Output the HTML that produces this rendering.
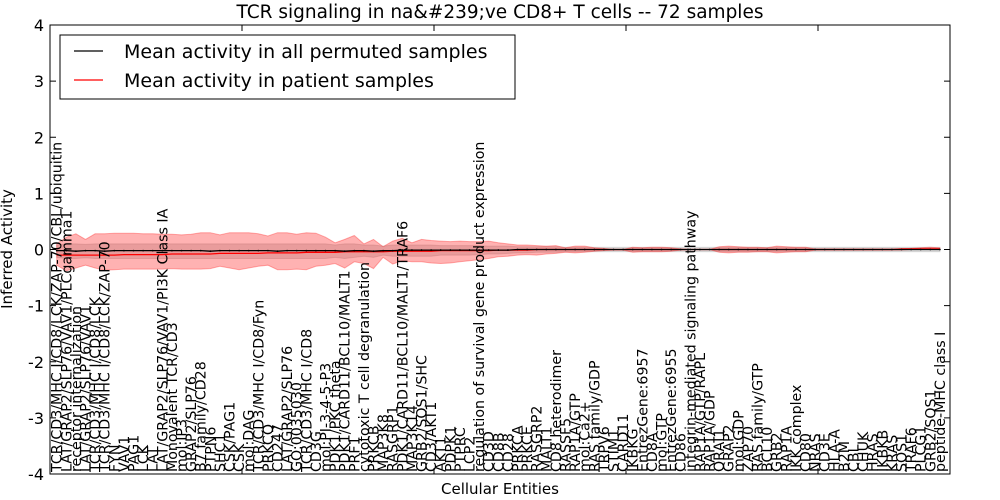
<!DOCTYPE html>
<html><head><meta charset="utf-8"><style>
body{margin:0;background:#fff;}
svg{display:block;font-family:"DejaVu Sans","Liberation Sans",sans-serif;}
</style></head><body>
<svg id="chart" width="1000" height="500">
<rect width="1000" height="500" fill="#fff"/>
<g id="bands"></g><g id="lines"></g><g id="xlabels"></g><g id="axes"></g>
</svg>
<script>
const labels=["TCR/CD3/MHC I/CD8/LCK/ZAP-70/CBL/ubiquitin","LAT/GRAP2/SLP76/VAV1/PLCgamma1","receptor internalization","LAT/GRAP2/SLP76/VAV1","TCR/CD3/MHC I/CD8/LCK","TCR/CD3/MHC I/CD8/LCK/ZAP-70","FYN","VAV1","PAG1","LCK","LAT","LAT/GRAP2/SLP76/VAV1/PI3K Class IA","Monovalent TCR/CD3","mol:IP3","GRAP2/SLP76","B7 family/CD28","PTPN6","SHC1","CSK/PAG1","CSK","mol:DAG","TCR/CD3/MHC I/CD8/Fyn","PRKCQ","CD247","LAT/GRAP2/SLP76","GO:0035030","TCR/CD3/MHC I/CD8","CD3G","mol:PI-3-4-5-P3","PDK1/PKC theta","PDK1/CARD11/BCL10/MALT1","PRF1","cytotoxic T cell degranulation","PRKCB","MAP3K8","RASGRP1","PDK1/CARD11/BCL10/MALT1/TRAF6","MAP3K14","GRB2/SOS1/SHC","CD3/AKT1","AKT1","PDPK1","PTPRC","LCP2","regulation of survival gene product expression","CD3D","CD8B","CD28","PRKCA","PRKCE","RASGRP2","MALT1","CD8 heterodimer","RASSF5","RAP1A/GTP","mol:Ca2+","RAS family/GDP","TRPV6","STIM1","CARD11","IKBKG","EntrezGene:6957","CD8A","mol:GTP","EntrezGene:6955","CD86","integrin-mediated signaling pathway","RAP1A/GTP/RAPL","RAP1A/GDP","ORAI1","GRAP2","mol:GDP","ZAP70","RAS family/GTP","BCL10","GRB2","RAP1A","IKK complex","CD80","NRAS","CD3E","HLA-A","B2M","CBL","CHUK","HRAS","IKBKB","KRAS","SOS1","TRAF6","PLCG1","GRB2/SOS1","peptide-MHC class I"];
const redMean=[-0.10,-0.10,-0.10,-0.10,-0.10,-0.10,-0.10,-0.09,-0.09,-0.09,-0.09,-0.09,-0.08,-0.08,-0.08,-0.08,-0.08,-0.07,-0.07,-0.07,-0.07,-0.07,-0.06,-0.06,-0.06,-0.06,-0.05,-0.05,-0.05,-0.05,-0.04,-0.04,-0.04,-0.04,-0.04,-0.03,-0.03,-0.03,-0.03,-0.03,-0.02,-0.02,-0.02,-0.02,-0.02,-0.02,-0.01,-0.01,-0.01,-0.01,0,0,0,0,0,0,0,0,0,0,0,0,0,0,0,0,0,0,0,0,0,0,0,0,0,0,0,0,0,0,0,0,0,0,0,0,0,0,0.01,0.01,0.01,0.01,0.01];
const redUpper=[0.10,0.22,0.28,0.18,0.28,0.28,0.29,0.29,0.29,0.28,0.28,0.27,0.27,0.26,0.27,0.30,0.30,0.26,0.30,0.30,0.30,0.28,0.24,0.30,0.30,0.27,0.30,0.29,0.22,0.12,0.18,0.25,0.10,0.18,0.05,0.15,0.20,0.12,0.18,0.16,0.15,0.14,0.15,0.14,0.14,0.15,0.12,0.10,0.08,0.08,0.07,0.06,0.07,0.03,0.06,0.06,0.03,0.02,0.00,0.00,0.04,0.03,0.04,0.04,0.03,0.01,0.00,0.00,0.00,0.05,0.06,0.05,0.04,0.04,0.03,0.06,0.05,0.04,0.04,0.01,0.01,0.01,0.01,0.01,0.01,0.01,0.01,0.01,0.01,0.02,0.03,0.04,0.03];
const redLower=[-0.28,-0.38,-0.33,-0.28,-0.33,-0.37,-0.36,-0.35,-0.35,-0.35,-0.35,-0.35,-0.34,-0.35,-0.35,-0.35,-0.34,-0.30,-0.33,-0.36,-0.33,-0.30,-0.28,-0.36,-0.36,-0.35,-0.36,-0.30,-0.28,-0.25,-0.33,-0.22,-0.25,-0.34,-0.14,-0.26,-0.20,-0.22,-0.22,-0.24,-0.25,-0.24,-0.22,-0.20,-0.18,-0.16,-0.13,-0.12,-0.10,-0.09,-0.10,-0.08,-0.07,-0.05,-0.06,-0.05,-0.03,-0.02,-0.01,-0.01,-0.05,-0.04,-0.04,-0.04,-0.03,-0.01,0,0,0,-0.05,-0.06,-0.05,-0.05,-0.04,-0.04,-0.06,-0.05,-0.04,-0.04,-0.01,-0.01,-0.01,-0.01,-0.01,-0.01,-0.01,-0.01,-0.01,-0.01,0,0,0,0];
const grayMean=[-0.02,-0.02,-0.03,-0.02,-0.02,-0.03,-0.02,-0.02,-0.02,-0.02,-0.02,-0.02,-0.02,-0.02,-0.02,-0.02,-0.03,-0.02,-0.02,-0.02,-0.02,-0.02,-0.02,-0.03,-0.02,-0.02,-0.02,-0.02,-0.02,-0.02,-0.03,-0.02,-0.02,-0.03,-0.02,-0.02,-0.01,-0.01,-0.01,-0.01,-0.01,-0.01,-0.01,-0.01,-0.01,-0.01,-0.01,-0.01,0,0,0,0,0,0,0,0,0,0,0,0,0,0,0,0,0,0,0,0,0,0,0,0,0,0,0,0,0,0,0,0,0,0,0,0,0,0,0,0,0,0,0,0,0];
const grayUpper=[0.08,0.10,0.10,0.09,0.10,0.10,0.10,0.10,0.10,0.10,0.10,0.10,0.10,0.10,0.10,0.10,0.10,0.10,0.10,0.10,0.10,0.10,0.10,0.10,0.10,0.10,0.10,0.10,0.10,0.08,0.10,0.10,0.08,0.08,0.06,0.08,0.08,0.08,0.08,0.08,0.07,0.07,0.07,0.07,0.07,0.06,0.06,0.06,0.05,0.05,0.05,0.05,0.05,0.04,0.04,0.04,0.04,0.04,0.04,0.04,0.04,0.04,0.04,0.04,0.04,0.04,0.04,0.04,0.04,0.04,0.04,0.04,0.04,0.04,0.04,0.04,0.04,0.04,0.04,0.04,0.04,0.04,0.04,0.04,0.04,0.04,0.04,0.04,0.04,0.04,0.04,0.04,0.04];
const grayLower=[-0.14,-0.16,-0.16,-0.15,-0.16,-0.16,-0.16,-0.16,-0.16,-0.16,-0.16,-0.16,-0.16,-0.16,-0.16,-0.16,-0.16,-0.16,-0.16,-0.16,-0.16,-0.16,-0.16,-0.16,-0.16,-0.16,-0.16,-0.16,-0.16,-0.14,-0.16,-0.14,-0.12,-0.14,-0.10,-0.12,-0.12,-0.12,-0.12,-0.12,-0.10,-0.10,-0.10,-0.10,-0.09,-0.08,-0.08,-0.07,-0.06,-0.06,-0.05,-0.05,-0.05,-0.04,-0.04,-0.04,-0.04,-0.04,-0.04,-0.04,-0.04,-0.04,-0.04,-0.04,-0.04,-0.04,-0.04,-0.04,-0.04,-0.04,-0.04,-0.04,-0.04,-0.04,-0.04,-0.04,-0.04,-0.04,-0.04,-0.04,-0.04,-0.04,-0.04,-0.04,-0.04,-0.04,-0.04,-0.04,-0.04,-0.04,-0.04,-0.04,-0.04];
const yTicks=[4,3,2,1,0,-1,-2,-3,-4];
const xTicks=[20,40,60,80];

const NS="http://www.w3.org/2000/svg";
const L=50,R=950,T=25,B=474;
const xs=d=>L+d*9.6;
const xi=i=>xs(i+0.7);
const ys=v=>T+(4-v)*(B-T)/8;
function mk(tag,attrs,parent){const e=document.createElementNS(NS,tag);for(const k in attrs)e.setAttribute(k,attrs[k]);parent.appendChild(e);return e;}
function band(up,lo,fill,op,name){
  let d="M"+up.map((v,i)=>xi(i).toFixed(1)+","+ys(v).toFixed(1)).join("L");
  for(let i=lo.length-1;i>=0;i--)d+="L"+xi(i).toFixed(1)+","+ys(lo[i]).toFixed(1);
  const p=mk("path",{d:d+"Z",fill:fill,"fill-opacity":op,stroke:fill,"stroke-opacity":op,"stroke-width":1},document.getElementById("bands"));
  
  
}
band(grayUpper,grayLower,"#999999",0.3,"permuted-range-band");
band(redUpper,redLower,"#ff0000",0.3,"patient-range-band");
function line(vals,col,name,dots){
  const pts=vals.map((v,i)=>xi(i).toFixed(1)+","+ys(v).toFixed(1)).join(" ");
  const p=mk("polyline",{points:pts,fill:"none",stroke:col,"stroke-width":1.3},document.getElementById("lines"));
  
  
  if(dots){vals.forEach((v,i)=>{const c=mk("circle",{cx:xi(i),cy:ys(v),r:0.9,fill:col},document.getElementById("lines"));
    
    });}
}
line(redMean,"#ff0000","patient-mean-line",false);
line(grayMean,"#000000","permuted-mean-line",true);
const xl=document.getElementById("xlabels");
labels.forEach((t,i)=>{
  const x=xi(i)+5,y=B-2;
  const e=mk("text",{x:x,y:y,transform:"rotate(-90 "+x+" "+y+")","font-size":14.2,fill:"#000"},xl);
  e.textContent=t;
  
  
});
const ax=document.getElementById("axes");
yTicks.forEach(v=>{
  const y=ys(v);
  mk("line",{x1:L,x2:L+6,y1:y,y2:y,stroke:"#000"},ax);
  mk("line",{x1:R-6,x2:R,y1:y,y2:y,stroke:"#000"},ax);
  const t=mk("text",{x:L-6,y:y+6,"text-anchor":"end","font-size":16},ax);
  t.textContent=v;
  
  
});
xTicks.forEach(v=>{
  const x=xs(v);
  mk("line",{x1:x,x2:x,y1:T,y2:T+6,stroke:"#000"},ax);
  mk("line",{x1:x,x2:x,y1:B-6,y2:B,stroke:"#000"},ax);
});
const fr=mk("rect",{x:L,y:T,width:R-L,height:B-T,fill:"none",stroke:"#000","stroke-width":1},ax);


</script>
<div style="position:absolute;left:0;top:0;width:1000px;height:500px;pointer-events:none;">
<svg width="1000" height="500" style="font-family:'DejaVu Sans','Liberation Sans',sans-serif;">
<text x="500" y="18" text-anchor="middle" font-size="18.5">TCR signaling in na&amp;#239;ve CD8+ T cells -- 72 samples</text>
<text x="500" y="494" text-anchor="middle" font-size="15">Cellular Entities</text>
<text x="12" y="249" text-anchor="middle" font-size="15" transform="rotate(-90 12 249)">Inferred Activity</text>
<g>
<rect x="60" y="35" width="455" height="64" fill="#fff" stroke="#000" stroke-width="1"/>
<line x1="74" x2="103" y1="51" y2="51" stroke="#000" stroke-width="1.3"/>
<text x="124" y="58" font-size="19">Mean activity in all permuted samples</text>
<line x1="74" x2="103" y1="80" y2="80" stroke="#f00" stroke-width="1.3"/>
<text x="124" y="87" font-size="19">Mean activity in patient samples</text>
</g>
</svg></div>
</body></html>
